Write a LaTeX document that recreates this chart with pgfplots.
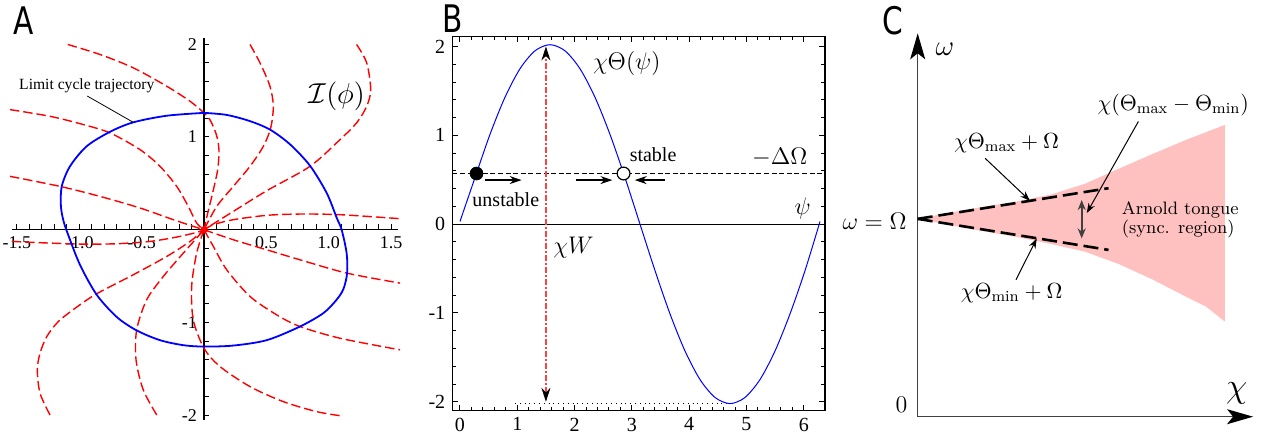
\documentclass[border=0pt]{standalone}
\usepackage{fontspec}
\usepackage{pgfplots}
\pgfplotsset{compat=1.18}
\usetikzlibrary{arrows.meta}
\newfontfamily\tnr{Liberation Serif}
\newfontfamily\panelfont[FakeStretch=0.78]{DejaVu Sans}
\definecolor{tongue}{RGB}{255,192,192}
\definecolor{axgray}{RGB}{64,64,64}

\begin{document}
\begin{tikzpicture}
% ---------------- panel A
\begin{axis}[
  at={(6pt,10pt)}, anchor=south west,
  scale only axis, width=193pt, height=191.2pt,
  xmin=-1.54, xmax=1.556, ymin=-2.05, ymax=2.07,
  axis lines=middle, clip=false,
  axis line style={-, black, line width=0.6pt},
  xtick={-1.5,-1,-0.5,0,0.5,1,1.5},
  xticklabels={-1.5,-1.0,-0.5,,0.5,1.0,1.5},
  ytick={-2,-1,0,1,2},
  yticklabels={-2,-1,,1,2},
  minor x tick num=4, minor y tick num=4,
  tick align=inside,
  major tick length=2.7pt, minor tick length=2.7pt,
  tick style={black, line width=0.5pt},
  tick label style={font=\tnr\fontsize{9}{10}\selectfont},
  red dashes/.style={red, line width=0.7pt, dash pattern=on 4.7pt off 2pt, smooth},
]
\addplot[red dashes] coordinates {(-1.093,1.996) (-0.834,1.888) (-0.567,1.744) (-0.299,1.546) (-0.112,1.384) (0,1.259) (0.05,1.18) (0.10,1.02) (0.12,0.86) (0.11,0.65) (0.07,0.40) (0.03,0.18) (0,0)};
\addplot[red dashes] coordinates {(0.369,1.996) (0.449,1.798) (0.529,1.546) (0.556,1.330) (0.535,1.097) (0.476,0.899) (0.369,0.683) (0.235,0.467) (0.102,0.251) (0,0)};
\addplot[red dashes] coordinates {(1.224,1.996) (1.305,1.798) (1.337,1.510) (1.305,1.330) (1.224,1.151) (1.091,0.971) (0.850,0.683) (0.503,0.42) (0.25,0.21) (0,0)};
\addplot[red dashes] coordinates {(-1.556,1.294) (-1.235,1.222) (-0.968,1.133) (-0.754,1.043) (-0.513,0.863) (-0.353,0.683) (-0.219,0.467) (-0.126,0.251) (-0.059,0.072) (0,0)};
\addplot[red dashes] coordinates {(-1.556,0.575) (-1.155,0.467) (-0.834,0.359) (-0.513,0.234) (-0.246,0.108) (-0.086,0.036) (0,0)};
\addplot[red dashes] coordinates {(0,0) (0.075,0.054) (0.235,0.108) (0.503,0.155) (0.770,0.169) (1.091,0.162) (1.572,0.119)};
\addplot[red dashes] coordinates {(-1.542,-0.126) (-1.235,-0.144) (-0.968,-0.155) (-0.700,-0.151) (-0.433,-0.126) (-0.219,-0.079) (-0.059,-0.029) (0,0)};
\addplot[red dashes] coordinates {(0,0) (0.235,-0.108) (0.503,-0.216) (0.770,-0.324) (1.144,-0.467) (1.572,-0.575)};
\addplot[red dashes] coordinates {(0,0) (0.075,-0.180) (0.182,-0.431) (0.369,-0.719) (0.583,-0.917) (0.770,-1.043) (1.091,-1.169) (1.572,-1.294)};
\addplot[red dashes] coordinates {(0,0) (-0.059,-0.252) (-0.099,-0.611) (-0.086,-0.971) (0,-1.276) (0.128,-1.474) (0.369,-1.690) (0.636,-1.852) (0.904,-1.960) (1.104,-2.006)};
\addplot[red dashes] coordinates {(-0.379,-1.996) (-0.487,-1.726) (-0.545,-1.402) (-0.540,-1.079) (-0.460,-0.755) (-0.326,-0.503) (-0.166,-0.252) (-0.059,-0.090) (0,0)};
\addplot[red dashes] coordinates {(-1.235,-1.996) (-1.315,-1.762) (-1.337,-1.510) (-1.315,-1.330) (-1.261,-1.151) (-1.168,-0.989) (-1.021,-0.834) (-0.861,-0.690) (-0.567,-0.485) (-0.299,-0.288) (-0.112,-0.126) (0,0)};
% limit cycle
\addplot[blue, line width=0.9pt, smooth] coordinates {
(0,1.259) (0.182,1.237) (0.369,1.170) (0.529,1.079) (0.690,0.920) (0.850,0.690)
(0.984,0.396) (1.064,0.130) (1.104,0) (1.144,-0.252) (1.148,-0.467) (1.118,-0.640)
(1.060,-0.760) (0.957,-0.899) (0.770,-1.043) (0.503,-1.190) (0.235,-1.248) (0,-1.259)
(-0.166,-1.244) (-0.353,-1.190) (-0.540,-1.085) (-0.700,-0.940) (-0.861,-0.700)
(-0.994,-0.380) (-1.088,-0.060) (-1.128,0.100) (-1.148,0.260) (-1.141,0.467)
(-1.075,0.683) (-0.941,0.899) (-0.754,1.055) (-0.567,1.157) (-0.30,1.228) (0,1.259)};
\addplot[red, only marks, mark=*, mark size=1.6pt] coordinates {(0,0)};
\addplot[black, line width=0.4pt] coordinates {(-0.936,1.44) (-0.567,1.157)};
\node[font=\tnr\fontsize{7.8}{8}\selectfont] at (axis cs:-0.94,1.55) {Limit cycle trajectory};
\node[font=\fontsize{13.5}{14}\selectfont] at (axis cs:1.064,1.438) {$\mathcal{I}(\phi)$};
\end{axis}

% ---------------- panel B
\begin{axis}[
  at={(226.15pt,14.65pt)}, anchor=south west,
  scale only axis, width=186.35pt, height=187pt,
  xmin=-0.134, xmax=6.37, ymin=-2.10, ymax=2.11,
  clip=false,
  xtick={0,1,2,3,4,5,6}, ytick={-2,-1,0,1,2},
  xticklabels={0,1,2,3,4,5,6}, yticklabels={-2,-1,0,1,2},
  minor x tick num=4, minor y tick num=4,
  tick align=inside,
  major tick length=2.8pt, minor tick length=1.8pt,
  axis line style={black, line width=0.6pt},
  tick style={black, line width=0.5pt},
  tick label style={font=\tnr\fontsize{10}{11}\selectfont},
]
\addplot[black, line width=0.5pt] coordinates {(-0.134,0) (6.37,0)};
\addplot[black, line width=0.5pt, dash pattern=on 2.5pt off 1.3pt] coordinates {(-0.134,0.57) (6.37,0.57)};
\addplot[black, line width=0.4pt, dotted] coordinates {(0.96,-2.02) (4.80,-2.02)};
\addplot[blue, line width=0.5pt, smooth] coordinates {
(0,0.03) (0.2618,0.523) (0.5236,1.010) (0.7854,1.428) (1.0472,1.749) (1.3090,1.951)
(1.5708,2.020) (1.8326,1.951) (2.0944,1.749) (2.3562,1.428) (2.6180,1.010)
(2.8798,0.523) (3.1416,0) (3.4034,-0.523) (3.6652,-1.010) (3.9270,-1.428)
(4.1888,-1.749) (4.4506,-1.951) (4.7124,-2.020) (4.9742,-1.951) (5.2360,-1.749)
(5.4978,-1.428) (5.7596,-1.010) (6.0214,-0.523) (6.2832,0.03)};
\addplot[red!75, line width=0.6pt, dash pattern=on 3pt off 1.2pt on 0.6pt off 1.2pt,
  {Stealth[length=7pt,width=4.5pt,black]}-{Stealth[length=7pt,width=4.5pt,black]}]
  coordinates {(1.5,-2.0) (1.5,2.0)};
\addplot[black, line width=0.6pt, -{Stealth[length=6pt,width=4pt]}] coordinates {(0.436,0.496) (1.077,0.496)};
\addplot[black, line width=0.6pt, -{Stealth[length=6pt,width=4pt]}] coordinates {(2.02,0.496) (2.66,0.496)};
\addplot[black, line width=0.6pt, -{Stealth[length=6pt,width=4pt]}] coordinates {(3.58,0.496) (3.05,0.496)};
\addplot[black, only marks, mark=*, mark size=3.2pt] coordinates {(0.289,0.57)};
\addplot[black, only marks, mark=*, mark size=3.2pt, mark options={fill=white, line width=0.6pt}] coordinates {(2.855,0.57)};
\node[font=\fontsize{13}{14}\selectfont] at (axis cs:2.91,1.81) {$\chi\Theta(\psi)$};
\node[font=\tnr\fontsize{10}{11}\selectfont] at (axis cs:3.37,0.78) {stable};
\node[font=\tnr\fontsize{10}{11}\selectfont] at (axis cs:0.80,0.28) {unstable};
\node[font=\fontsize{13}{14}\selectfont] at (axis cs:5.58,0.75) {$-\Delta\Omega$};
\node[font=\fontsize{13}{14}\selectfont] at (axis cs:5.98,0.18) {$\psi$};
\node[font=\fontsize{13}{14}\selectfont] at (axis cs:1.98,-0.26) {$\chi W$};
\end{axis}

% ---------------- panel C
\begin{axis}[
  at={(458.85pt,11.65pt)}, anchor=south west,
  scale only axis, width=167.7pt, height=191.7pt,
  xmin=0, xmax=10, ymin=0, ymax=10,
  axis x line=bottom, axis y line=left, clip=false,
  ticks=none,
  axis line style={axgray, line width=0.6pt, -{Stealth[length=13pt,width=7.5pt,inset=3pt,black]}},
]
\addplot[fill=tongue, draw=none] coordinates {
(0,5.16) (1,5.33) (2,5.48) (3,5.62) (4,5.80) (5,6.08) (6,6.47) (7,6.85) (8,7.22) (9.16,7.61)
(9.16,2.48) (8.6,2.87) (8,3.13) (7,3.58) (6,3.98) (5,4.30) (4,4.50) (3,4.68) (2,4.83) (1,4.99) (0,5.16)} -- cycle;
\addplot[black, line width=1.3pt, dash pattern=on 7.5pt off 3pt] coordinates {(0,5.16) (5.69,5.96)};
\addplot[black, line width=1.3pt, dash pattern=on 7.5pt off 3pt] coordinates {(0,5.16) (5.69,4.35)};
\addplot[axgray, line width=0.9pt, {Stealth[length=5pt,width=4pt]}-{Stealth[length=5pt,width=4pt]}] coordinates {(4.89,4.65) (4.89,5.65)};
\addplot[black, line width=0.5pt, -{Stealth[length=5pt,width=3.5pt]}] coordinates {(2.01,6.74) (3.35,5.63)};
\addplot[black, line width=0.5pt, -{Stealth[length=5pt,width=3.5pt]}] coordinates {(2.93,3.57) (3.55,4.65)};
\addplot[black, line width=0.5pt, -{Stealth[length=5pt,width=3.5pt]}] coordinates {(6.58,7.70) (5.04,5.31)};
\node[font=\fontsize{15}{16}\selectfont] at (axis cs:0.81,9.57) {$\omega$};
\node[font=\fontsize{16}{17}\selectfont] at (axis cs:9.51,0.62) {$\chi$};
\node[font=\fontsize{13}{14}\selectfont] at (axis cs:-0.48,0.31) {$0$};
\node[font=\fontsize{12}{13}\selectfont, anchor=east] at (axis cs:-0.12,5.1) {$\omega=\Omega$};
\node[font=\fontsize{11}{12}\selectfont] at (axis cs:2.65,7.13) {$\chi\Theta_{\max}+\Omega$};
\node[font=\fontsize{11}{12}\selectfont] at (axis cs:2.80,3.22) {$\chi\Theta_{\min}+\Omega$};
\node[font=\fontsize{11}{12}\selectfont] at (axis cs:7.62,8.13) {$\chi(\Theta_{\max}-\Theta_{\min})$};
\node[font=\fontsize{9}{9.5}\selectfont, anchor=west, align=left] at (axis cs:5.88,5.13) {Arnold tongue\\(sync. region)};
\end{axis}

\node[font=\panelfont\fontsize{19}{19}\selectfont] at (12pt,209.5pt) {A};
\node[font=\panelfont\fontsize{19}{19}\selectfont] at (226.2pt,210.5pt) {B};
\node[font=\panelfont\fontsize{19}{19}\selectfont] at (446.5pt,209.5pt) {C};
\pgfresetboundingbox
\path[use as bounding box] (0,0) rectangle (633pt,220pt);
\end{tikzpicture}
\end{document}
